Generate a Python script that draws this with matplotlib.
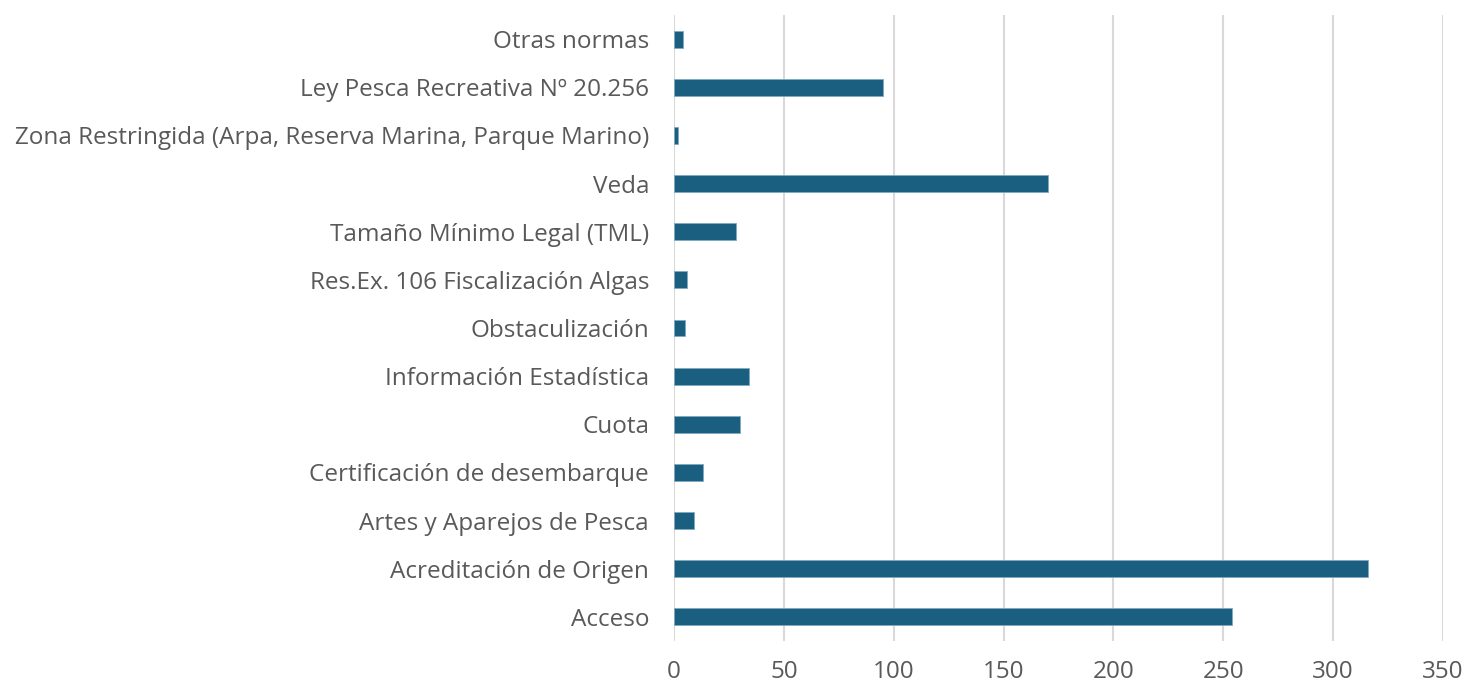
import numpy as np
import matplotlib.pyplot as plt

# categorias (de abajo hacia arriba) y numero de casos
categorias = ['Acceso', 'Acreditación de Origen', 'Artes y Aparejos de Pesca',
              'Certificación de desembarque', 'Cuota', 'Información Estadística',
              'Obstaculización', 'Res.Ex. 106 Fiscalización Algas',
              'Tamaño Mínimo Legal (TML)', 'Veda',
              'Zona Restringida (Arpa, Reserva Marina, Parque Marino)',
              'Ley Pesca Recreativa Nº 20.256', 'Otras normas']
valores = [254, 316, 9, 13, 30, 34, 5, 6, 28, 170, 2, 95, 4]
ticks_x = [0, 50, 100, 150, 200, 250, 300, 350]

plt.rcParams['font.family'] = ['Open Sans', 'DejaVu Sans']

fig = plt.figure(figsize=(14.74, 6.83), dpi=100)
ax = fig.add_axes([0.4573, 0.0615, 0.5217, 0.9165])

y = np.arange(len(categorias))
ax.barh(y, valores, height=0.35, color='#1a5e80', edgecolor='#7fa9c2', linewidth=0.6, zorder=3)

ax.set_xlim(0, 350)
ax.set_ylim(-0.5, len(categorias) - 0.5)
ax.set_xticks(ticks_x)
ax.set_yticks(y)
ax.set_yticklabels(categorias)
ax.grid(axis='x', color='#d9d9d9', linewidth=1.5, zorder=0)
ax.tick_params(axis='both', length=0, labelsize=17.5, labelcolor='#595959')
ax.tick_params(axis='y', pad=18)
ax.tick_params(axis='x', pad=14)
for s in ax.spines.values():
    s.set_visible(False)

fig.savefig('out.png', dpi=100)
